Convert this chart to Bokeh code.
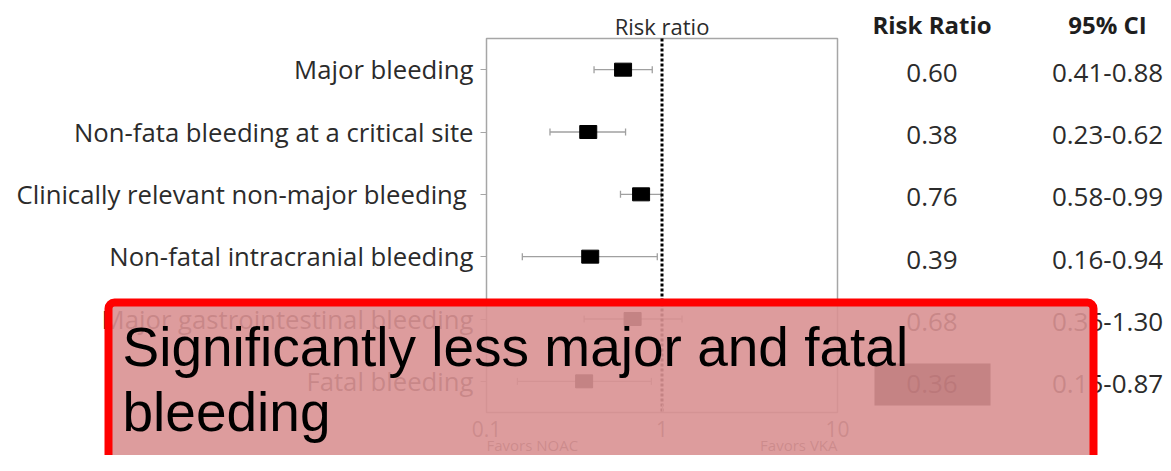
import numpy as np
from bokeh.plotting import figure
from bokeh.models import (Range1d, FixedTicker, ColumnDataSource, Label, BoxAnnotation,
                          LogScale, LinearScale, LogAxis, LinearAxis)
from bokeh.core.properties import value
from bokeh.embed import file_html
from bokeh.resources import INLINE

# ---- data ----
outcomes = ["Major bleeding",
            "Non-fata bleeding at a critical site",
            "Clinically relevant non-major bleeding ",
            "Non-fatal intracranial bleeding",
            "Major gastrointestinal bleeding",
            "Fatal bleeding"]
risk_ratio = [0.60, 0.38, 0.76, 0.39, 0.68, 0.36]
ci_low = [0.41, 0.23, 0.58, 0.16, 0.36, 0.15]
ci_high = [0.88, 0.62, 0.99, 0.94, 1.30, 0.87]
x_ticks = [0.1, 1, 10]
x_tick_labels = ["0.1", "1", "10"]
null_effect = 1.0

rows = list(range(len(outcomes)))
src = ColumnDataSource(dict(
    outcome=outcomes, pos=rows, rr=risk_ratio, lo=ci_low, hi=ci_high,
    rr_txt=["%.2f" % v for v in risk_ratio],
    ci_txt=["%.2f-%.2f" % (a, b) for a, b in zip(ci_low, ci_high)],
))

# ---- layout constants (pixels on the canvas) ----
W, H = 1163, 455
FR_L, FR_R, FR_T, FR_B = 486, 837, 38, 412      # forest-plot panel
decade = (FR_R - FR_L) / (np.log10(x_ticks[-1]) - np.log10(x_ticks[0]))
lo_exp = np.log10(x_ticks[0]) - FR_L / decade
hi_exp = np.log10(x_ticks[-1]) + (W - FR_R) / decade
row_h = (FR_B - FR_T) / len(outcomes)
row_top = -FR_T / row_h - 0.5
row_bot = (H - FR_T) / row_h - 0.5

FONT = "Open Sans"
TXT = "#2b2b2b"
GRAY = "#a6a6a6"

p = figure(width=W, height=H, title=None,
           x_range=Range1d(0, W), y_range=Range1d(H, 0),
           x_axis_location=None, y_axis_location=None,
           output_backend="svg", toolbar_location=None,
           min_border=0, outline_line_color=None)
p.extra_x_ranges = {"rr": Range1d(10 ** lo_exp, 10 ** hi_exp)}
p.extra_x_scales = {"rr": LogScale()}
p.extra_y_ranges = {"row": Range1d(row_bot, row_top)}
p.extra_y_scales = {"row": LinearScale()}
p.grid.visible = False

# panel box
p.quad(left=[x_ticks[0]], right=[x_ticks[-1]], top=[-0.5], bottom=[len(outcomes) - 0.5],
       x_range_name="rr", y_range_name="row",
       fill_color=None, line_color=GRAY, line_width=1.5)

# whiskers
p.segment(x0="lo", y0="pos", x1="hi", y1="pos", source=src,
          x_range_name="rr", y_range_name="row",
          line_color="#a0a0a0", line_width=1.3)
for col in ("lo", "hi"):
    p.scatter(x=col, y="pos", source=src, marker="dash", angle=np.pi / 2,
              size=7, line_color="#a0a0a0", line_width=1.3,
              x_range_name="rr", y_range_name="row")
# squares
p.rect(x="rr", y="pos", source=src, width=17, height=13,
       width_units="screen", height_units="screen",
       fill_color="black", line_color="black",
       x_range_name="rr", y_range_name="row")
# null line
p.segment(x0=[null_effect], x1=[null_effect], y0=[-0.5], y1=[len(outcomes) - 0.5],
          x_range_name="rr", y_range_name="row",
          line_color="black", line_width=3, line_dash="3 2")

# axes
xa = LogAxis(x_range_name="rr", y_range_name="row", fixed_location=len(outcomes) - 0.5,
             ticker=FixedTicker(ticks=x_ticks),
             major_label_overrides={t: l for t, l in zip(x_ticks, x_tick_labels)},
             major_tick_in=8, major_tick_out=0, minor_tick_line_color=None,
             axis_line_color=None, major_tick_line_color=GRAY,
             major_label_text_font=FONT, major_label_text_font_size="21px",
             major_label_text_color="#555555", major_label_standoff=8)
p.add_layout(xa, "below")
ya = LinearAxis(x_range_name="rr", y_range_name="row", fixed_location=x_ticks[0],
                ticker=FixedTicker(ticks=rows),
                major_label_overrides={i: o for i, o in zip(rows, outcomes)},
                major_tick_in=0, major_tick_out=6, minor_tick_line_color=None,
                axis_line_color=None, major_tick_line_color=GRAY,
                major_label_text_font=FONT, major_label_text_font_size="25.7px",
                major_label_text_color=TXT, major_label_standoff=7)
p.add_layout(ya, "left")

# favors labels
p.text(x=[x_ticks[0]], y=[444], text=["Favors NOAC"], x_range_name="rr",
       text_align="left", text_baseline="middle", text_font=value(FONT),
       text_font_size="15px", text_color="#555555")
p.text(x=[x_ticks[-1]], y=[444], text=["Favors VKA"], x_range_name="rr",
       text_align="right", text_baseline="middle", text_font=value(FONT),
       text_font_size="15px", text_color="#555555")
# panel title
p.text(x=[null_effect], y=[25], text=["Risk ratio"], x_range_name="rr",
       text_align="center", text_baseline="middle", text_font=value(FONT),
       text_font_size="22px", text_color=TXT)

# table columns
RR_X, CI_X = 931.5, 1107
p.text(x=RR_X, y="pos", text="rr_txt", source=src, y_range_name="row",
       text_align="center", text_baseline="middle", text_font=value(FONT),
       text_font_size="26px", text_color=TXT, y_offset=3)
p.text(x=CI_X, y="pos", text="ci_txt", source=src, y_range_name="row",
       text_align="center", text_baseline="middle", text_font=value(FONT),
       text_font_size="26px", text_color=TXT, y_offset=3)
p.text(x=[RR_X, CI_X], y=[23.5, 23.5], text=["Risk Ratio", "95% CI"],
       text_align="center", text_baseline="middle", text_font=value(FONT),
       text_font_size="24px", text_font_style="bold", text_color="#1e1e1e")

# highlight overlay
p.add_layout(BoxAnnotation(left=108, right=1093, top=302, bottom=500,
                           fill_color=(217, 145, 146), fill_alpha=0.9,
                           line_color="#ff0000", line_width=8, line_alpha=1.0,
                           border_radius=6))
p.add_layout(BoxAnnotation(left=874, right=990, top=363, bottom=405,
                           fill_color=(173, 106, 107), fill_alpha=0.5,
                           line_color=None))
p.add_layout(Label(x=122, y=346, text="Significantly less major and fatal",
                   text_font="Liberation Sans", text_font_size="55px",
                   text_color="black", text_baseline="alphabetic"))
p.add_layout(Label(x=122, y=411, text="bleeding",
                   text_font="Liberation Sans", text_font_size="55px",
                   text_color="black", text_baseline="alphabetic"))

open("out.html", "w").write(file_html(p, INLINE))
